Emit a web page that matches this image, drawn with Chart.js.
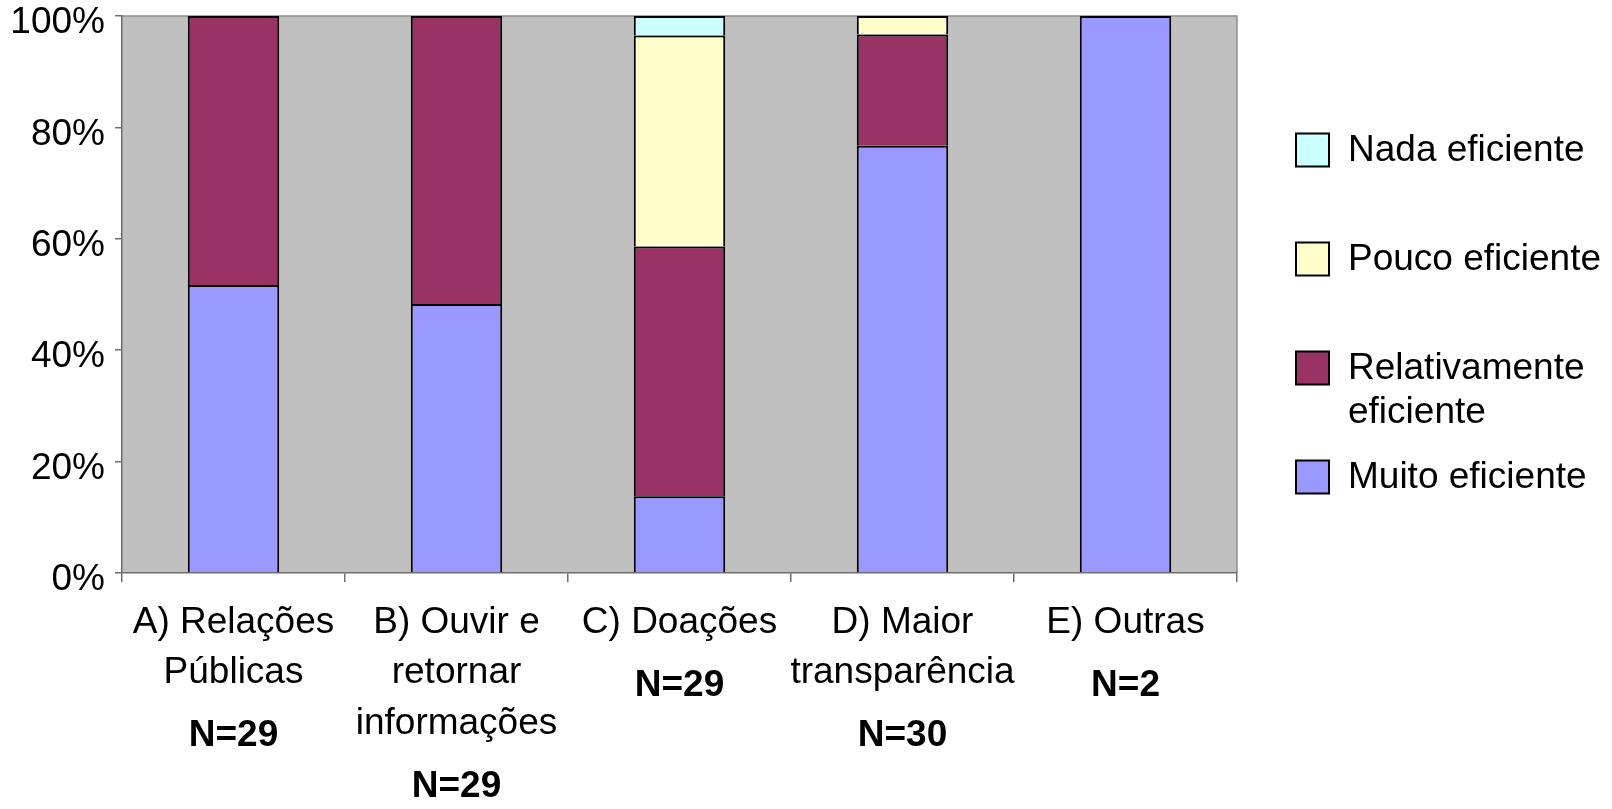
<!DOCTYPE html>
<html>
<head>
<meta charset="utf-8">
<script src="https://cdn.jsdelivr.net/npm/chart.js@4/dist/chart.umd.min.js"></script>
<style>
  html, body { margin: 0; padding: 0; background: #ffffff; }
  #wrap { width: 1612px; height: 809px; position: relative; }
</style>
</head>
<body>
<div id="wrap"><canvas id="c" width="1612" height="809"></canvas></div>
<script>
// ---- data ----
const categories = [
  ['A) Relações', 'Públicas'],
  ['B) Ouvir e', 'retornar', 'informações'],
  ['C) Doações'],
  ['D) Maior', 'transparência'],
  ['E) Outras']
];
const sampleSizes = ['N=29', 'N=29', 'N=29', 'N=30', 'N=2'];
const seriesNames = ['Muito eficiente', 'Relativamente eficiente', 'Pouco eficiente', 'Nada eficiente'];
const muitoEficiente = [51.7, 48.3, 13.8, 76.7, 100];
const relativamenteEficiente = [48.3, 51.7, 44.8, 20.0, 0];
const poucoEficiente = [0, 0, 37.9, 3.3, 0];
const nadaEficiente = [0, 0, 3.5, 0, 0];
const yTickValues = [0, 20, 40, 60, 80, 100];

// ---- styles ----
const FONT = '"Liberation Sans", Arial, Helvetica, sans-serif';
const FS = 37;
const LH = 1.37;
const colors = ['#9999FF', '#993366', '#FFFFCC', '#CCFFFF'];
const values = [muitoEficiente, relativamenteEficiente, poucoEficiente, nadaEficiente];
const legendNames = [['Nada eficiente'], ['Pouco eficiente'], ['Relativamente', 'eficiente'], ['Muito eficiente']];

const datasets = seriesNames.map((name, i) => ({
  label: name,
  data: values[i],
  backgroundColor: colors[i],
  borderColor: '#000000',
  borderWidth: 2,
  borderSkipped: 'bottom',
  barPercentage: 0.41,
  categoryPercentage: 1.0
}));

const plotBg = {
  id: 'plotBg',
  beforeDraw(chart) {
    const a = chart.chartArea, ctx = chart.ctx;
    ctx.save();
    ctx.fillStyle = '#C0C0C0';
    ctx.fillRect(a.left, a.top, a.right - a.left, a.bottom - a.top);
    ctx.strokeStyle = '#8c8c8c';
    ctx.lineWidth = 1.5;
    ctx.beginPath();
    ctx.moveTo(a.left, a.top);
    ctx.lineTo(a.right, a.top);
    ctx.lineTo(a.right, a.bottom);
    ctx.stroke();
    ctx.restore();
  }
};

const extras = {
  id: 'extras',
  afterDraw(chart) {
    const ctx = chart.ctx;
    const xs = chart.scales.x;
    const opts = xs.options;
    const lh = FS * LH;
    ctx.save();
    ctx.fillStyle = '#000000';
    ctx.textAlign = 'center';
    ctx.textBaseline = 'middle';
    ctx.font = 'bold ' + FS + 'px ' + FONT;
    const base = xs.top + opts.grid.tickLength + opts.ticks.padding;
    sampleSizes.forEach((s, i) => {
      const x = xs.getPixelForValue(i);
      const n = categories[i].length;
      const y = base + (n - 1) * lh + lh / 2 + 63;
      ctx.fillText(s, x, y);
    });
    // legend
    ctx.textAlign = 'left';
    ctx.font = FS + 'px ' + FONT;
    const lx = 1296, box = 33, first = 150, step = 109;
    legendNames.forEach((lines, k) => {
      const di = datasets.length - 1 - k;
      const cy = first + k * step;
      ctx.fillStyle = datasets[di].backgroundColor;
      ctx.fillRect(lx, cy - box / 2, box, box);
      ctx.strokeStyle = '#000000';
      ctx.lineWidth = 2;
      ctx.strokeRect(lx, cy - box / 2, box, box);
      ctx.fillStyle = '#000000';
      lines.forEach((t, j) => ctx.fillText(t, lx + 52, cy + 1 + j * 44));
    });
    ctx.restore();
  }
};

new Chart(document.getElementById('c'), {
  type: 'bar',
  data: { labels: categories, datasets },
  options: {
    responsive: false,
    animation: false,
    devicePixelRatio: 1,
    layout: { padding: { left: 0, top: 16, right: 375, bottom: 0 } },
    plugins: { legend: { display: false }, tooltip: { enabled: false } },
    scales: {
      x: {
        stacked: true,
        grid: { offset: true, drawOnChartArea: false, drawTicks: true, tickLength: 9, color: '#6e6e6e', lineWidth: 1.5 },
        border: { display: true, color: '#6e6e6e', width: 1.5 },
        ticks: { color: '#000000', font: { family: FONT, size: FS, lineHeight: LH }, padding: 15, maxRotation: 0, autoSkip: false },
        afterFit(s) { s.height = 236; s.paddingLeft = 0; s.paddingRight = 0; }
      },
      y: {
        stacked: true,
        min: 0, max: 100,
        afterBuildTicks(s) { s.ticks = yTickValues.map(v => ({ value: v })); },
        grid: { drawOnChartArea: false, drawTicks: true, tickLength: 7, color: '#6e6e6e', lineWidth: 1.5 },
        border: { display: true, color: '#6e6e6e', width: 1.5 },
        ticks: { color: '#000000', font: { family: FONT, size: FS }, padding: 10, labelOffset: 7, callback: v => v + '%' },
        afterFit(s) { s.width = 122; s.paddingTop = 0; s.paddingBottom = 0; }
      }
    }
  },
  plugins: [plotBg, extras]
});
</script>
</body>
</html>
